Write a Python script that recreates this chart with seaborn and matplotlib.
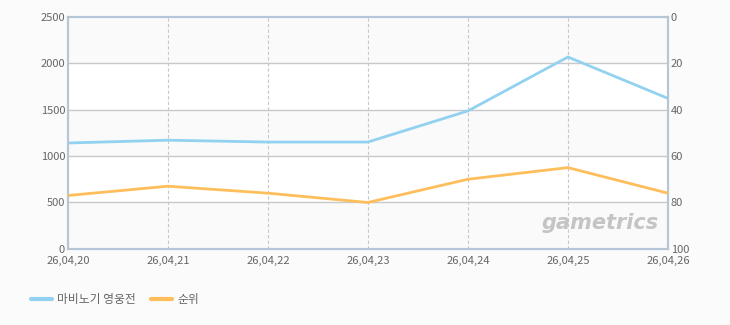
import matplotlib
matplotlib.use("Agg")
import matplotlib.pyplot as plt
import seaborn as sns
import pandas as pd

dates = ["26,04,20", "26,04,21", "26,04,22", "26,04,23", "26,04,24", "26,04,25", "26,04,26"]
players = [1140, 1170, 1150, 1150, 1485, 2065, 1620]
ranks = [77, 73, 76, 80, 70, 65, 76]
series_names = ["마비노기 영웅전", "순위"]
left_ticks = [0, 500, 1000, 1500, 2000, 2500]
right_ticks = [0, 20, 40, 60, 80, 100]

BLUE = "#92d2f0"
ORANGE = "#ffbe5c"
TXT = "#666666"

sns.set_theme(style="white")
plt.rcParams["font.family"] = ["Noto Sans CJK KR", "DejaVu Sans"]

df = pd.DataFrame({"date": dates, "players": players, "rank": ranks})

fig = plt.figure(figsize=(7.3, 3.25), dpi=100, facecolor="#fbfbfb")
ax = fig.add_axes([0.093, 0.234, 0.822, 0.715])
ax.set_facecolor("white")

# alternating bands
for i, (lo, hi) in enumerate(zip(left_ticks[:-1], left_ticks[1:])):
    if i % 2 == 0:
        ax.axhspan(lo, hi, color="#fafafa", zorder=0, lw=0)

sns.lineplot(data=df, x="date", y="players", ax=ax, color=BLUE, lw=2, label=series_names[0], legend=False, zorder=5)
ax.set_ylim(0, 2500)
ax.set_xlim(0, len(dates) - 1)
ax.set_yticks(left_ticks)
ax.set_xlabel("")
ax.set_ylabel("")
for y in left_ticks[1:-1]:
    ax.axhline(y, color="#c8c8c8", lw=1, zorder=1)
for x in range(1, len(dates) - 1):
    ax.axvline(x, color="#c8c8c8", lw=0.8, ls=(0, (3, 2)), zorder=1)

ax2 = ax.twinx()
sns.lineplot(data=df, x="date", y="rank", ax=ax2, color=ORANGE, lw=2, label=series_names[1], legend=False, zorder=5)
ax2.set_ylim(100, 0)
ax2.set_yticks(right_ticks)
ax2.set_ylabel("")
ax2.set_xlim(0, len(dates) - 1)

for a in (ax, ax2):
    a.tick_params(axis="both", length=0, labelsize=8, labelcolor=TXT, pad=2)
    for s in a.spines.values():
        s.set_color("#b4c6d8")
        s.set_linewidth(1.5)
        s.set_visible(True)
ax.tick_params(axis="x", pad=5)

ax.text(0.985, 0.07, "gametrics", transform=ax.transAxes, ha="right", va="bottom",
        fontsize=15, fontstyle="italic", fontweight="bold", color="#c4c4c4",
        family=["DejaVu Sans"], zorder=2)

h1, l1 = ax.get_legend_handles_labels()
h2, l2 = ax2.get_legend_handles_labels()
leg = fig.legend(h1 + h2, l1 + l2, loc="lower left", bbox_to_anchor=(0.028, 0.025), ncol=2,
                 frameon=False, fontsize=8.5, handlelength=1.8, handletextpad=0.4, columnspacing=1.3)
for t in leg.get_texts():
    t.set_color(TXT)
for l in leg.get_lines():
    l.set_linewidth(3)

fig.savefig("out.png", dpi=100, facecolor=fig.get_facecolor())
